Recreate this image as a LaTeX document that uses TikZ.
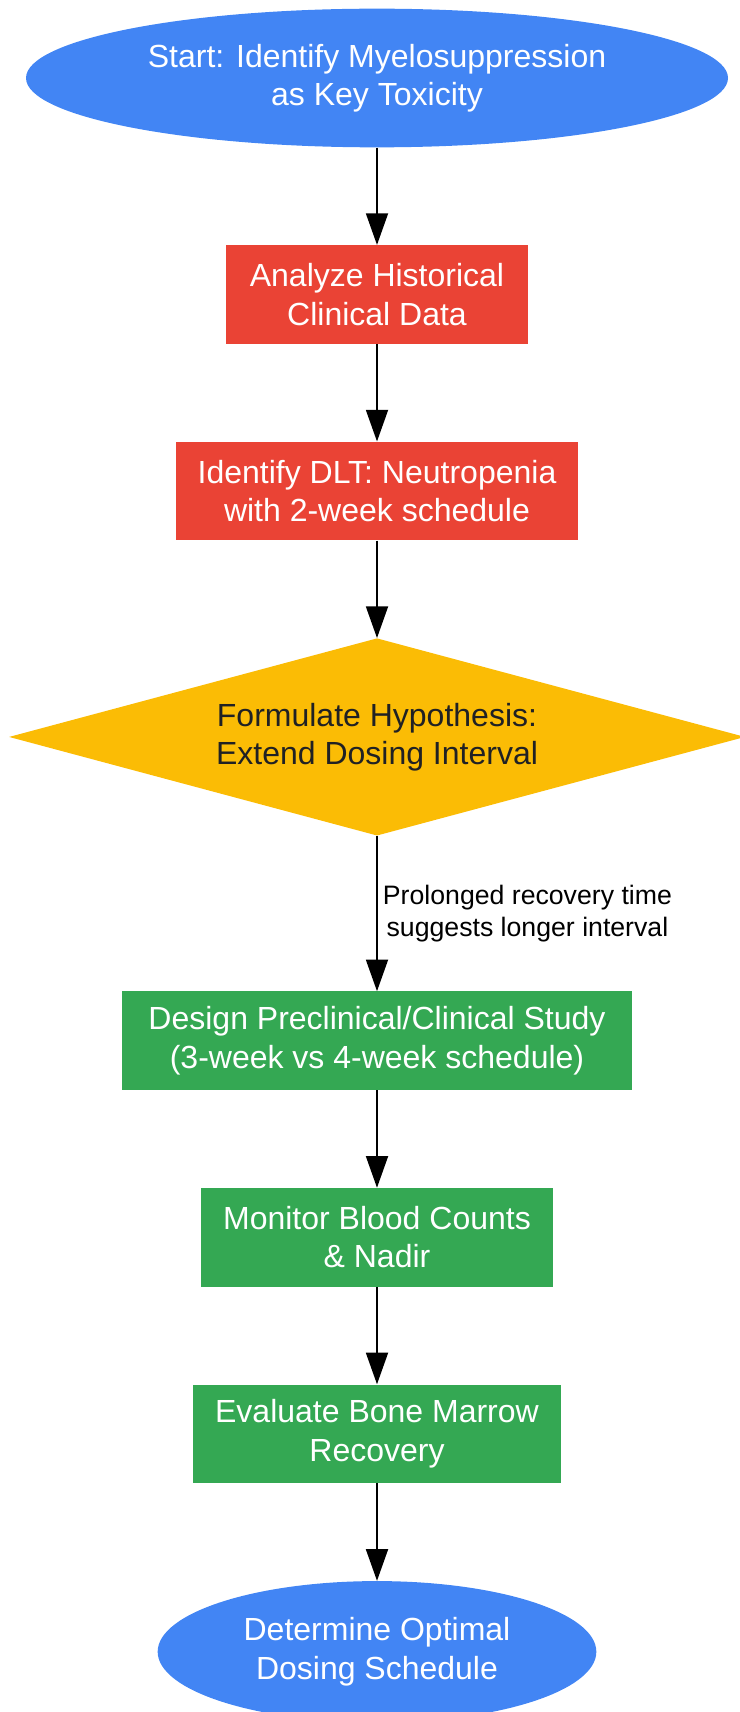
\documentclass[tikz,border=0pt]{standalone}
\usepackage{fontspec}
\setmainfont{Liberation Sans}
\usepackage{tikz}
\usetikzlibrary{arrows.meta,positioning,shapes.geometric}
\definecolor{gblue}{HTML}{4285F4}
\definecolor{gred}{HTML}{EA4335}
\definecolor{gyellow}{HTML}{FBBC05}
\definecolor{ggreen}{HTML}{34A853}
\definecolor{darktext}{HTML}{202124}

\begin{document}
\begin{tikzpicture}[node distance=73pt]
\tikzstyle{terminal}=[ellipse,fill=gblue,text=white,minimum width=526.5pt,minimum height=104pt,align=center,font=\fontsize{24}{28.8}\selectfont]
\tikzstyle{redbox}=[rectangle,fill=gred,text=white,minimum height=74pt,inner sep=0pt,align=center,font=\fontsize{24}{28.8}\selectfont]
\tikzstyle{greenbox}=[redbox,fill=ggreen]
\tikzstyle{decision}=[diamond,aspect=3.73,fill=gyellow,text=darktext,minimum width=552pt,minimum height=148pt,inner sep=0pt,align=center,font=\fontsize{24}{28.8}\selectfont]
\tikzstyle{arrow}=[line width=1.4pt,-{Triangle[length=23.75pt,width=16.5pt]}]
\useasboundingbox (0,0) rectangle (554.25pt,-1284pt);
\node [terminal] at (282.75pt,-58.5pt) (start) {Start: Identify Myelosuppression\\as Key Toxicity};
\node [redbox,minimum width=226.5pt,below=of start] (analyze) {Analyze Historical\\Clinical Data};
\node [redbox,minimum width=302pt,below=of analyze] (dlt) {Identify DLT: Neutropenia\\with 2-week schedule};
\node [decision,below=of dlt] (hypo) {Formulate Hypothesis:\\Extend Dosing Interval};
\node [greenbox,minimum width=383pt,below=116.5pt of hypo] (design) {Design Preclinical/Clinical Study\\(3-week vs 4-week schedule)};
\node [greenbox,minimum width=264pt,below=of design] (monitor) {Monitor Blood Counts\\\& Nadir};
\node [greenbox,minimum width=276pt,below=of monitor] (evaluate) {Evaluate Bone Marrow\\Recovery};
\node [terminal,minimum width=329pt,minimum height=106pt,below=of evaluate] (finish) {Determine Optimal\\Dosing Schedule};
\draw [arrow] (start) -- (analyze);
\draw [arrow] (analyze) -- (dlt);
\draw [arrow] (dlt) -- (hypo);
\draw [arrow] (hypo) -- node [right,inner sep=3.75pt,align=center,font=\fontsize{20}{24}\selectfont] {Prolonged recovery time\\suggests longer interval} (design);
\draw [arrow] (design) -- (monitor);
\draw [arrow] (monitor) -- (evaluate);
\draw [arrow] (evaluate) -- (finish);
\end{tikzpicture}
\end{document}
